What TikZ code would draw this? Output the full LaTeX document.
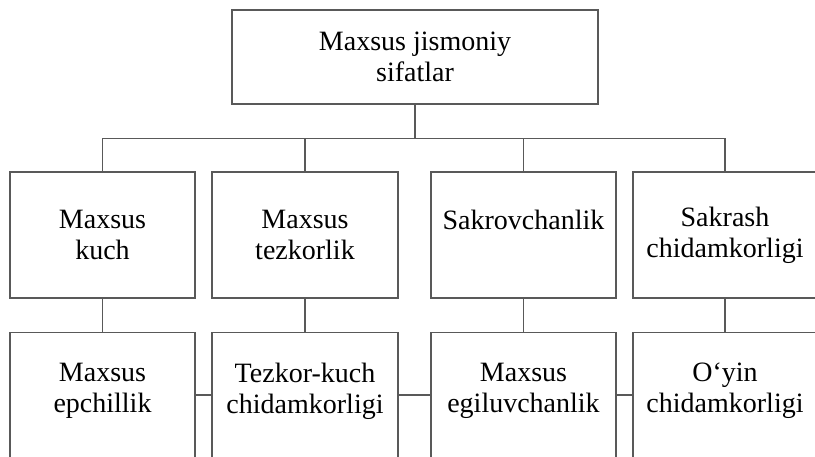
\documentclass[tikz,border=0pt]{standalone}
\usepackage{fontspec}
\setmainfont{Liberation Serif}
\usetikzlibrary{positioning}

\begin{document}
\begin{tikzpicture}[x=1pt,y=-1pt,
  every node/.style={font=\fontsize{28}{31}\selectfont,align=center,inner sep=0pt},
  box/.style={draw=black!65,line width=1.2pt,minimum height=126pt},
  lowbox/.style={draw=black!65,line width=1.2pt,minimum height=170pt,anchor=north},
  link/.style={draw=black!65,line width=1.2pt}]
  \useasboundingbox (0,0) rectangle (815,457);

  % top box
  \node[box,minimum width=366pt,minimum height=94pt] (top) at (415,57) {Maxsus jismoniy\\sifatlar};

  % first row
  \node[box,minimum width=185pt] (k1) at (102.5,235) {Maxsus\\kuch};
  \node[box,minimum width=186pt] (k2) at (305,235) {Maxsus\\tezkorlik};
  \node[box,minimum width=185pt] (k3) at (523.5,235) {Sakrovchanlik\\\mbox{}};
  \node[box,minimum width=184pt] (k4) at (725,235) {Sakrash\\chidamkorligi};

  % bus
  \coordinate (bus) at ([yshift=-34pt]top.south);
  \draw[link] (top.south) -- (bus);
  \draw[link] (k1.north) |- (bus) -| (k4.north);
  \draw[link] (k2.north) -- (k2.north |- bus);
  \draw[link] (k3.north) -- (k3.north |- bus);

  % second row
  \node[lowbox,minimum width=185pt] (m1) at (102.5,332) {};
  \node[lowbox,minimum width=186pt] (m2) at (305,332) {};
  \node[lowbox,minimum width=185pt] (m3) at (523.5,332) {};
  \node[lowbox,minimum width=184pt] (m4) at (725,332) {};
  \node[below=31pt of m1.north] (t1) {Maxsus\\epchillik};
  \node[below=31pt of m2.north] (t2) {Tezkor-kuch\\chidamkorligi};
  \node[below=31pt of m3.north] (t3) {Maxsus\\egiluvchanlik};
  \node[below=31pt of m4.north] (t4) {O‘yin\\chidamkorligi};

  \foreach \i in {1,...,4} \draw[link] (k\i.south) -- (m\i.north);

  % side links
  \draw[link] ([yshift=-63pt]m1.north east) -- ([yshift=-63pt]m2.north west);
  \draw[link] ([yshift=-63pt]m2.north east) -- ([yshift=-63pt]m3.north west);
  \draw[link] ([yshift=-63pt]m3.north east) -- ([yshift=-63pt]m4.north west);
\end{tikzpicture}
\end{document}
